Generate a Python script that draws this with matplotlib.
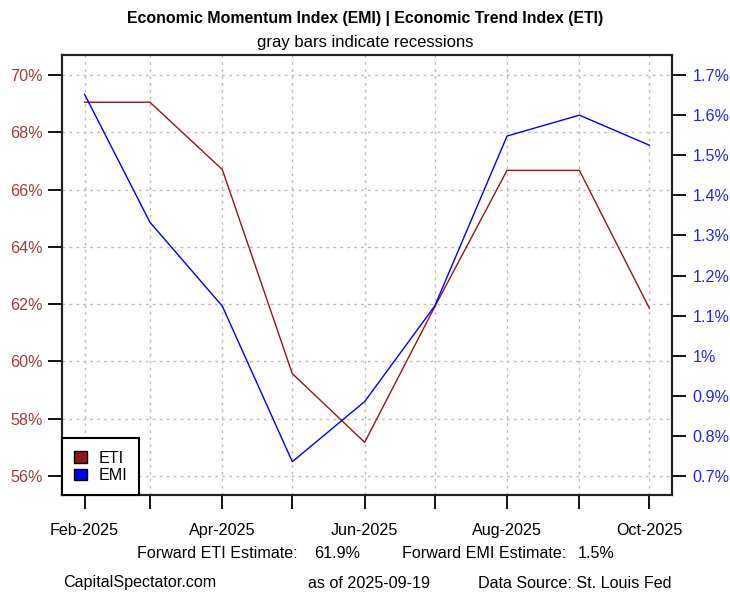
import matplotlib
matplotlib.use('Agg')
import matplotlib.pyplot as plt
import matplotlib.dates as mdates
from matplotlib.patches import Patch
import numpy as np
import datetime as dt

# monthly readings (left axis: ETI, right axis: EMI)
months = ['2025-02-01', '2025-03-01', '2025-04-01', '2025-05-01', '2025-06-01',
          '2025-07-01', '2025-08-01', '2025-09-01', '2025-10-01']
eti = [69.05, 69.05, 66.7, 59.57, 57.17, 61.9, 66.67, 66.67, 61.85]
emi = [1.652, 1.333, 1.124, 0.736, 0.886, 1.124, 1.548, 1.600, 1.525]

eti_ticks = [56, 58, 60, 62, 64, 66, 68, 70]
emi_ticks = [0.7, 0.8, 0.9, 1.0, 1.1, 1.2, 1.3, 1.4, 1.5, 1.6, 1.7]
emi_labels = ['0.7%', '0.8%', '0.9%', '1%', '1.1%', '1.2%', '1.3%', '1.4%',
              '1.5%', '1.6%', '1.7%']

fwd_eti = 61.9
fwd_emi = 1.5
as_of = '2025-09-19'

W, H = 730, 593
dates = [dt.datetime.strptime(m, '%Y-%m-%d') for m in months]

plt.rcParams['font.family'] = ['Liberation Sans', 'DejaVu Sans']
fs = 11.6
eti_col = '#8B1A1A'
emi_col = '#0000FF'
grid_col = '#BEBEBE'

fig = plt.figure(figsize=(W / 100, H / 100), dpi=100)
ax = fig.add_axes([62 / W, 1 - 495 / H, (672 - 62) / W, (495 - 55) / H])
ax2 = ax.twinx()

ax.plot(dates, eti, color=eti_col, lw=1.0, zorder=3)
ax2.plot(dates, emi, color=emi_col, lw=1.0, zorder=3)

pad = dt.timedelta(days=9.68)
ax.set_xlim(dates[0] - pad, dates[-1] + pad)
ax.set_ylim(55.33, 70.7)
ax2.set_ylim(0.653, 1.75)

ax.set_yticks(eti_ticks)
ax.set_yticklabels(['%d%%' % v for v in eti_ticks])
ax2.set_yticks(emi_ticks)
ax2.set_yticklabels(emi_labels)

ax.xaxis.set_major_locator(mdates.MonthLocator(bymonth=[2, 4, 6, 8, 10]))
ax.xaxis.set_minor_locator(mdates.MonthLocator(bymonth=[3, 5, 7, 9]))
ax.xaxis.set_major_formatter(mdates.DateFormatter('%b-%Y'))

ax.tick_params(axis='x', which='both', length=10, width=1.3, pad=10,
               labelsize=fs, colors='black')
ax.tick_params(axis='y', length=10, width=1.3, pad=4, labelsize=fs,
               labelcolor='#A03C3C')
ax2.tick_params(axis='y', length=10, width=1.3, pad=5, labelsize=fs,
                labelcolor='#2323F5')

for a in (ax, ax2):
    for s in a.spines.values():
        s.set_linewidth(1.5)
        s.set_color('#222222')

ax.grid(True, which='both', axis='x', color=grid_col, linestyle=(0, (2, 3)), lw=1)
ax.grid(True, which='major', axis='y', color=grid_col, linestyle=(0, (2, 3)), lw=1)
ax.set_axisbelow(True)

handles = [Patch(facecolor=eti_col, edgecolor='black', label='ETI'),
           Patch(facecolor=emi_col, edgecolor='black', label='EMI')]
leg = ax2.legend(handles=handles, loc='lower left', borderaxespad=0,
                 fontsize=fs, fancybox=False, framealpha=1, edgecolor='black',
                 handlelength=0.8, handleheight=0.7, handletextpad=0.7,
                 borderpad=0.75, labelspacing=0.15)
leg.get_frame().set_linewidth(1.5)

fig.text(0.5, 1 - 18 / H, 'Economic Momentum Index (EMI) | Economic Trend Index (ETI)',
         ha='center', va='center', fontsize=11.4, fontweight='bold')
fig.text(0.5, 1 - 42 / H, 'gray bars indicate recessions',
         ha='center', va='center', fontsize=12)

y1 = 1 - 554 / H
fig.text(137 / W, y1, 'Forward ETI Estimate:', ha='left', va='center', fontsize=fs)
fig.text(314 / W, y1, '%.1f%%' % fwd_eti, ha='left', va='center', fontsize=fs)
fig.text(402 / W, y1, 'Forward EMI Estimate:', ha='left', va='center', fontsize=fs)
fig.text(578 / W, y1, '%.1f%%' % fwd_emi, ha='left', va='center', fontsize=fs)

y2 = 1 - 583 / H
fig.text(63 / W, y2, 'CapitalSpectator.com', ha='left', va='center', fontsize=fs)
fig.text(308 / W, y2, 'as of ' + as_of, ha='left', va='center', fontsize=fs)
fig.text(671 / W, y2, 'Data Source: St. Louis Fed', ha='right', va='center', fontsize=fs)

fig.savefig('out.png', dpi=100)
